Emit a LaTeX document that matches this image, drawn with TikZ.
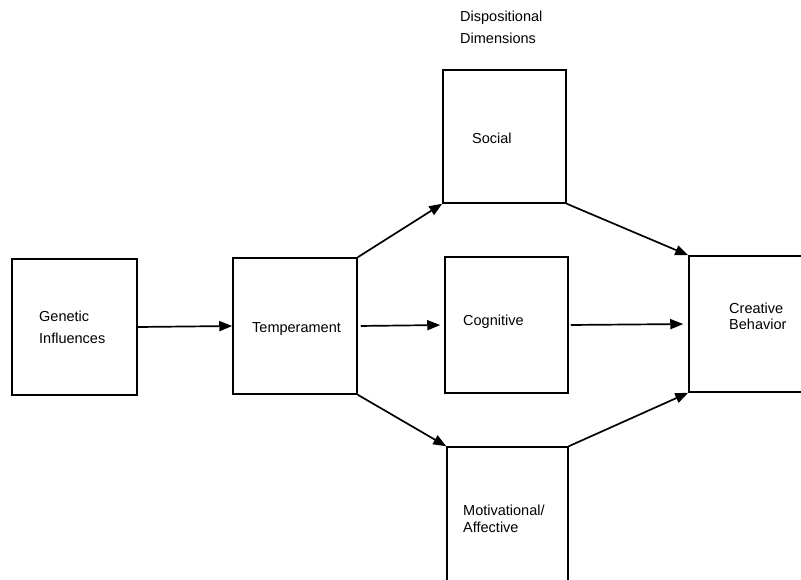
\documentclass[tikz,border=0pt]{standalone}
\usepackage{fontspec}
\setmainfont{Liberation Sans}
\usetikzlibrary{arrows.meta}

\tikzset{
  box/.style={draw, line width=1.5pt, minimum width=124pt, minimum height=136pt, inner sep=0pt},
  lbl/.style={anchor=base west, align=left, inner sep=0pt, font=\fontsize{14.5}{17}\selectfont},
  arr/.style={line width=1.7pt, -{Triangle[length=13pt,width=10pt]}},
}

\begin{document}
\begin{tikzpicture}[x=1pt,y=-1pt]
  \useasboundingbox (0,0) rectangle (801,579);
  \clip (0,0) rectangle (801,579);

  % boxes
  \node[box, minimum width=125pt] (gen) at (74.5,327) {};
  \node[box] (tem) at (295,326) {};
  \node[box, minimum width=123pt, minimum height=133pt] (soc) at (504.5,136.5) {};
  \node[box, minimum width=123pt] (cog) at (506.5,325) {};
  \node[box, minimum width=121pt] (mot) at (507.5,515) {};
  \node[box, minimum width=136pt] (cre) at (757,324) {};

  % labels (base = last line)
  \node[lbl] (disT) at (460,43) {Dispositional\\[4.5pt]Dimensions};
  \node[lbl] (genT) at (39,343) {Genetic\\[5pt]Influences};
  \node[lbl] (temT) at (252,332) {Temperament};
  \node[lbl] (socT) at (472,143) {Social};
  \node[lbl] (cogT) at (463,325) {Cognitive};
  \node[lbl] (motT) at (463,532) {Motivational/\\Affective};
  \node[lbl] (creT) at (729,329) {Creative\\[-1pt]Behavior};

  % arrows
  \draw[arr] (gen.east) -- (tem.west);
  \draw[arr, shorten <=3pt, shorten >=4pt] (tem.east) -- (cog.west);
  \draw[arr, shorten <=2pt, shorten >=5pt] (cog.east) -- (cre.west);
  \draw[arr] (tem.north east) -- (soc.south west);
  \draw[arr] (soc.south east) -- (cre.north west);
  \draw[arr] (tem.south east) -- (mot.north west);
  \draw[arr] (mot.north east) -- (cre.south west);
\end{tikzpicture}
\end{document}
